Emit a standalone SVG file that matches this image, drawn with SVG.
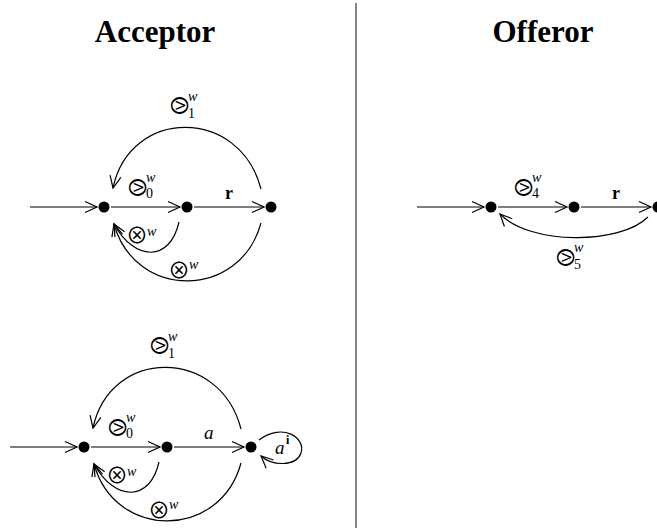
<svg xmlns="http://www.w3.org/2000/svg" width="657" height="528" viewBox="0 0 657 528">
<style>
.head{font-family:"Liberation Serif","DejaVu Serif",serif;font-weight:bold;font-size:31px;text-anchor:middle;fill:#000}
.sym{font-family:"DejaVu Sans","Noto Sans",sans-serif;font-size:24px;text-anchor:middle;fill:#000}
.otimes{font-family:"Noto Sans CJK JP","DejaVu Sans",sans-serif;font-weight:400;font-size:22px;text-anchor:middle;fill:#000}
.mi{font-family:"Liberation Serif","DejaVu Serif",serif;font-style:italic;font-size:14px;fill:#000}
.sub{font-family:"Liberation Serif","DejaVu Serif",serif;font-size:14px;fill:#000}
.bf{font-family:"Liberation Serif","DejaVu Serif",serif;font-weight:bold;font-size:18px;fill:#000}
.lab{font-family:"Liberation Serif","DejaVu Serif",serif;font-style:italic;font-size:19px;fill:#000}
.node{fill:#000}
.edge{fill:none;stroke:#000;stroke-width:1.2;marker-end:url(#arr)}
</style>
<defs>
<marker id="arr" markerUnits="userSpaceOnUse" markerWidth="16" markerHeight="14" refX="13" refY="7" orient="auto">
<path d="M1,1.5 L13,7 L1,12.5" fill="none" stroke="#000" stroke-width="1.2"/>
</marker>
</defs>
<line x1="356" y1="3" x2="356" y2="528" stroke="#666" stroke-width="1.6"/>
<text class="head" x="155" y="42">Acceptor</text>
<text class="head" x="543" y="42">Offeror</text>

<g id="connectors">
<path class="edge" d="M30,207 L97,207"/>
<path class="edge" d="M111,207 L180,207"/>
<path class="edge" d="M194,207 L264,207"/>
<path class="edge" d="M261,189 C240,107 130,107 113,188"/>
<path class="edge" d="M179,222 C170,262 135,262 114,224"/>
<path class="edge" d="M261,223 C240,300 135,300 114,224"/>
<path class="edge" d="M10,447 L77,447"/>
<path class="edge" d="M91,447 L160,447"/>
<path class="edge" d="M174,447 L244,447"/>
<path class="edge" d="M241,429 C220,347 110,347 93,428"/>
<path class="edge" d="M159,462 C150,502 115,502 94,464"/>
<path class="edge" d="M241,463 C220,540 115,540 94,464"/>
<path class="edge" d="M259,440 C283,422 306,438 301,453 C296,467 272,466 261,456"/>
<path class="edge" d="M417,207 L484,207"/>
<path class="edge" d="M498,207 L567,207"/>
<path class="edge" d="M581,207 L651,207"/>
<path class="edge" d="M648,217 C620,245 530,245 500,214"/>
</g>

<g id="acc1-n1"><circle class="node" cx="104" cy="207" r="5.5"/></g>
<g id="acc1-n2"><circle class="node" cx="187" cy="207" r="5.5"/></g>
<g id="acc1-n3"><circle class="node" cx="271" cy="207" r="5.5"/></g>
<g id="acc2-n1"><circle class="node" cx="84" cy="447" r="5.5"/></g>
<g id="acc2-n2"><circle class="node" cx="167" cy="447" r="5.5"/></g>
<g id="acc2-n3"><circle class="node" cx="251" cy="447" r="5.5"/></g>
<g id="off-n1"><circle class="node" cx="491" cy="207" r="5.5"/></g>
<g id="off-n2"><circle class="node" cx="574" cy="207" r="5.5"/></g>
<g id="off-n3"><circle class="node" cx="658" cy="207" r="5.5"/></g>

<g id="labels">
<text class="sym" x="179" y="114">⧁</text><text class="mi" x="188" y="101">w</text><text class="sub" x="188" y="118">1</text>
<text class="sym" x="137" y="196">⧁</text><text class="mi" x="146" y="182">w</text><text class="sub" x="146" y="198">0</text>
<text class="bf" x="225" y="199">r</text>
<text class="otimes" x="137" y="243">⊗</text><text class="mi" x="147" y="236">w</text>
<text class="otimes" x="179" y="278">⊗</text><text class="mi" x="189" y="269">w</text>
<text class="sym" x="159" y="354">⧁</text><text class="mi" x="168" y="341">w</text><text class="sub" x="168" y="358">1</text>
<text class="sym" x="117" y="436">⧁</text><text class="mi" x="126" y="422">w</text><text class="sub" x="126" y="438">0</text>
<text class="lab" x="204" y="439">a</text>
<text class="otimes" x="117" y="483">⊗</text><text class="mi" x="127" y="476">w</text>
<text class="otimes" x="159" y="518">⊗</text><text class="mi" x="169" y="509">w</text>
<text class="lab" x="275" y="454">a</text><text class="bf" x="286" y="444" style="font-size:12px">i</text>
<text class="sym" x="523" y="196">⧁</text><text class="mi" x="532" y="182">w</text><text class="sub" x="532" y="198">4</text>
<text class="bf" x="612" y="199">r</text>
<text class="sym" x="565" y="266">⧁</text><text class="mi" x="574" y="252">w</text><text class="sub" x="574" y="269">5</text>
</g>
</svg>
